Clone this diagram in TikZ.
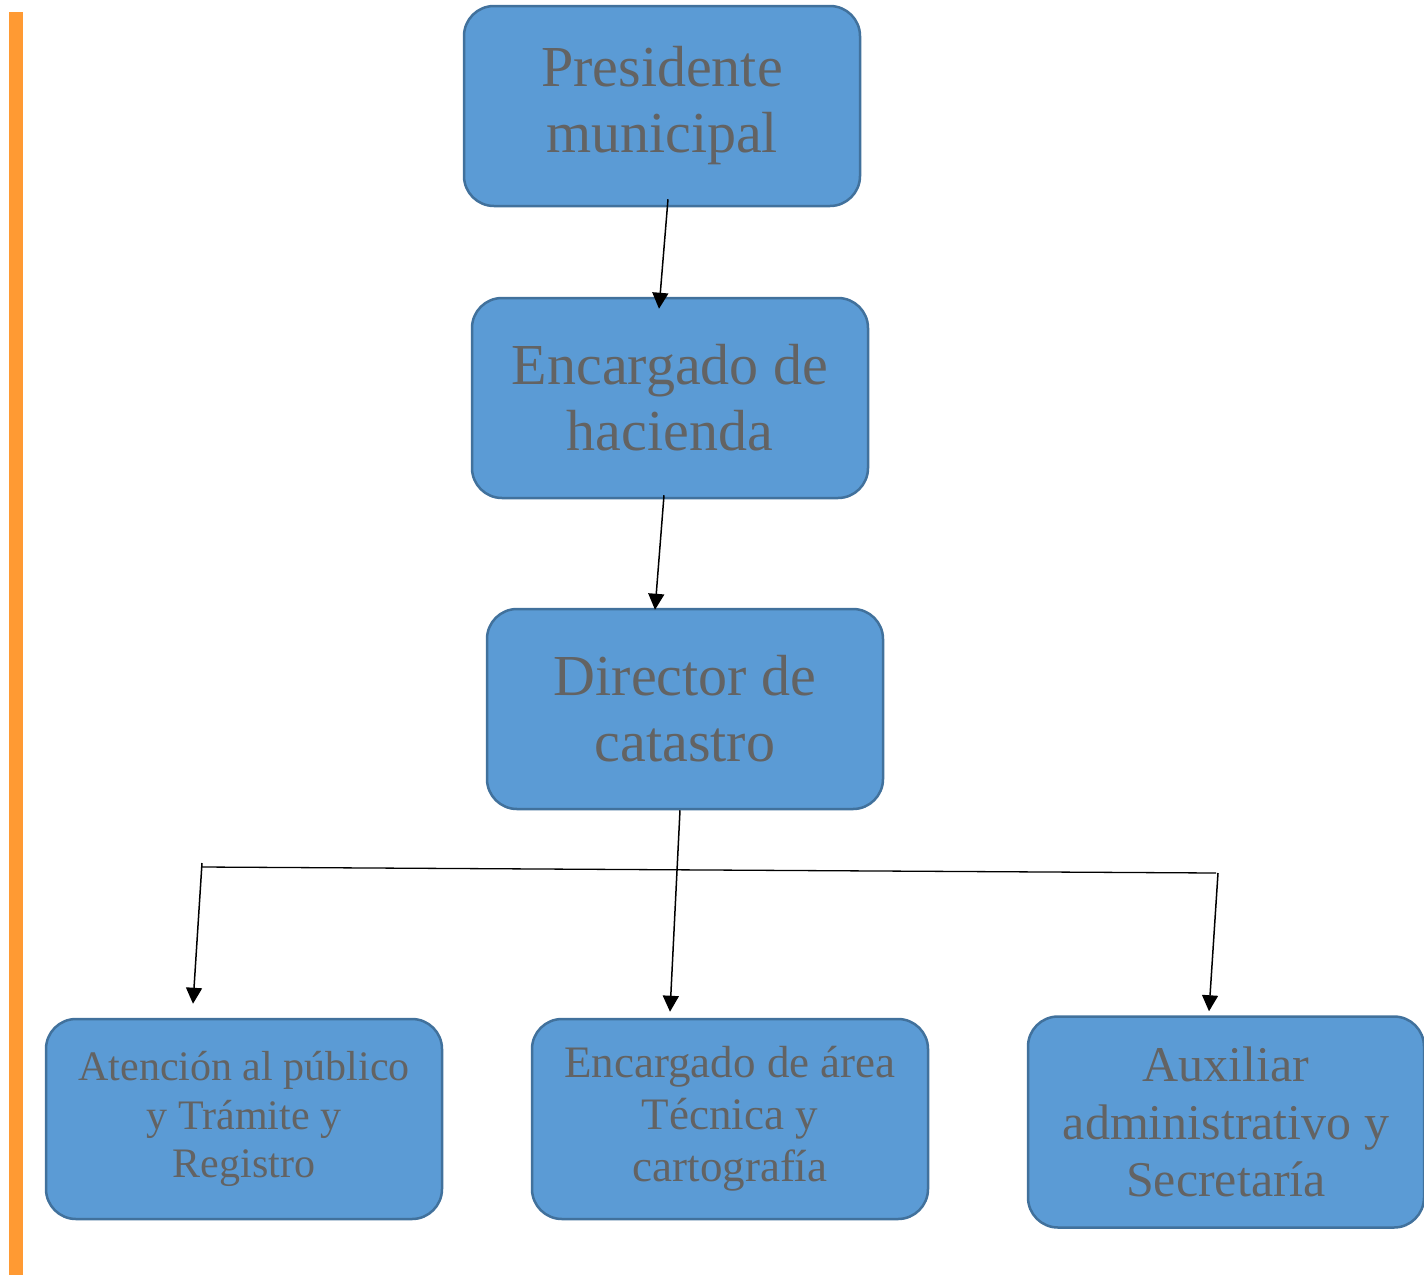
\documentclass[tikz,border=0pt]{standalone}
\usepackage{fontspec}
\setmainfont{Liberation Serif}
\usepackage{tikz}
\usetikzlibrary{arrows.meta}

\definecolor{cajaazul}{RGB}{91,155,213}
\definecolor{bordeazul}{RGB}{65,113,156}
\definecolor{textogris}{RGB}{99,99,99}
\definecolor{barranaranja}{RGB}{255,154,51}

\begin{document}
\begin{tikzpicture}[x=1pt,y=-1pt,
  caja/.style={rectangle,rounded corners=30pt,draw=bordeazul,line width=2.5pt,fill=cajaazul,text=textogris,align=center,minimum width=396pt,minimum height=200pt,inner sep=0pt},
  grande/.style={font=\fontsize{58}{66}\selectfont,execute at begin node={\rule{0pt}{0.83em}}},
  flecha/.style={line width=1.5pt,-{Triangle[length=16pt,width=16pt]}},
  level 1/.style={level distance=292pt},
  level 2/.style={level distance=311pt},
  level 3/.style={level distance=410pt,sibling distance=486pt},
  edge from parent/.style={draw=none}]
\useasboundingbox (0,0) rectangle (1424,1275);
\fill[barranaranja] (9,12) rectangle (23,1275);
\node [caja,grande] (presidente) at (662,106) {Presidente\\municipal}
  child [xshift=8pt] {node [caja,grande] (hacienda) {Encargado de\\hacienda}
    child [xshift=15pt] {node [caja,grande] (catastro) {Director de\\catastro}
      child [xshift=45pt] {node [caja,font=\fontsize{42}{48.5}\selectfont] (atencion) {Atención al público\\y Trámite y\\Registro}}
      child [xshift=45pt] {node [caja,font=\fontsize{45}{52}\selectfont] (tecnica) {Encargado de área\\Técnica y\\cartografía}}
      child [xshift=55pt,yshift=-3pt] {node [caja,minimum height=211pt,font=\fontsize{50}{57.5}\selectfont] (auxiliar) {Auxiliar\\administrativo y\\Secretaría}}
    }
  };
\coordinate (barraizq) at (202,867);
\coordinate (barrader) at (1216,873);
\draw[flecha] ([xshift=6pt,yshift=8pt]presidente.south) -- ([xshift=-11pt,yshift=-12pt]hacienda.north);
\draw[flecha] ([xshift=-6pt,yshift=4pt]hacienda.south) -- ([xshift=-30pt,yshift=-2pt]catastro.north);
\draw[flecha] ([xshift=-5pt]catastro.south) -- ([xshift=-60pt,yshift=6pt]tecnica.north);
\draw[line width=1.3pt] (barraizq) -- (barrader);
\draw[flecha] ([yshift=4pt]barraizq) -- ([xshift=-51pt,yshift=14pt]atencion.north);
\draw[flecha] ([xshift=2pt]barrader) -- ([xshift=-17pt,yshift=4pt]auxiliar.north);
\end{tikzpicture}
\end{document}
